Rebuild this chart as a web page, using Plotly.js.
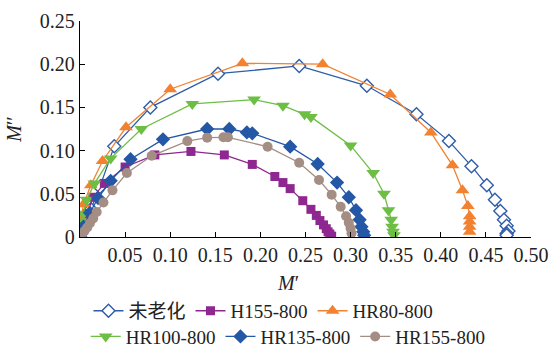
<!DOCTYPE html>
<html><head><meta charset="utf-8">
<script src="https://cdn.plot.ly/plotly-3.0.1.min.js"></script>
<style>html,body{margin:0;padding:0;background:#fff}#c{width:553px;height:347px}</style>
</head><body><div id="c"></div>
<script>
// 未老化
const unagedX = [0.000, 0.004, 0.012, 0.022, 0.038, 0.078, 0.153, 0.243, 0.318, 0.373, 0.409, 0.434, 0.451, 0.460, 0.466, 0.470, 0.473, 0.475, 0.473, 0.473];
const unagedY = [0.000, 0.012, 0.032, 0.058, 0.105, 0.150, 0.189, 0.198, 0.175, 0.142, 0.111, 0.082, 0.060, 0.043, 0.030, 0.020, 0.013, 0.007, 0.004, 0.002];
// H155-800
const h155X = [0.000, 0.004, 0.008, 0.0144, 0.027, 0.050, 0.083, 0.123, 0.160, 0.191, 0.216, 0.225, 0.233, 0.247, 0.256, 0.262, 0.266, 0.270, 0.273, 0.275, 0.277, 0.279];
const h155Y = [0.000, 0.012, 0.027, 0.046, 0.062, 0.081, 0.095, 0.099, 0.095, 0.084, 0.070, 0.063, 0.056, 0.042, 0.032, 0.025, 0.019, 0.014, 0.0096, 0.006, 0.0035, 0.001];
// HR80-800
const hr80X = [0.000, 0.001, 0.004, 0.012, 0.025, 0.051, 0.100, 0.180, 0.269, 0.344, 0.389, 0.413, 0.424, 0.430, 0.432, 0.432, 0.432, 0.432];
const hr80Y = [0.006, 0.022, 0.038, 0.060, 0.088, 0.127, 0.171, 0.201, 0.200, 0.165, 0.121, 0.083, 0.054, 0.036, 0.024, 0.018, 0.012, 0.006];
// HR100-800
const hr100X = [0.000, 0.001, 0.0037, 0.0074, 0.016, 0.034, 0.068, 0.1245, 0.193, 0.225, 0.249, 0.256, 0.300, 0.325, 0.337, 0.342, 0.345, 0.346, 0.347, 0.348];
const hr100Y = [0.008, 0.018, 0.027, 0.043, 0.062, 0.091, 0.125, 0.154, 0.159, 0.152, 0.142, 0.139, 0.106, 0.074, 0.050, 0.031, 0.020, 0.012, 0.006, 0.002];
// HR135-800
const hr135X = [0.000, 0.004, 0.011, 0.020, 0.034, 0.056, 0.092, 0.141, 0.1655, 0.185, 0.191, 0.233, 0.2635, 0.285, 0.298, 0.306, 0.310, 0.312, 0.314, 0.315];
const hr135Y = [0.000, 0.012, 0.028, 0.045, 0.065, 0.090, 0.113, 0.125, 0.125, 0.121, 0.120, 0.1045, 0.0845, 0.063, 0.046, 0.031, 0.020, 0.012, 0.006, 0.002];
// HR155-800
const hr155X = [0.000, 0.002, 0.005, 0.008, 0.011, 0.0147, 0.0185, 0.026, 0.036, 0.052, 0.0795, 0.119, 0.141, 0.159, 0.164, 0.208, 0.243, 0.265, 0.279, 0.289, 0.295, 0.298, 0.300, 0.301];
const hr155Y = [0.000, 0.003, 0.007, 0.011, 0.016, 0.0216, 0.029, 0.040, 0.054, 0.074, 0.094, 0.111, 0.115, 0.1154, 0.1154, 0.1045, 0.086, 0.066, 0.049, 0.035, 0.024, 0.0166, 0.010, 0.0043];

const xTicks = [0.05, 0.10, 0.15, 0.20, 0.25, 0.30, 0.35, 0.40, 0.45, 0.50];
const xTickText = ['0.05', '0.10', '0.15', '0.20', '0.25', '0.30', '0.35', '0.40', '0.45', '0.50'];
const yTicks = [0, 0.05, 0.10, 0.15, 0.20, 0.25];
const yTickText = ['0', '0.05', '0.10', '0.15', '0.20', '0.25'];

const F = '"Liberation Serif", "Times New Roman", "Noto Sans CJK SC", serif';
function tr(name, x, y, color, symbol, size, legend, fill) {
  return {x: x, y: y, name: name, type: 'scatter', mode: 'lines+markers', legend: legend,
    line: {color: color, width: 1.3},
    marker: {symbol: symbol, size: size, color: fill || color, line: {color: color, width: fill ? 1.4 : 0}}};
}
const data = [
  tr('未老化', unagedX, unagedY, '#2E5DAA', 'diamond', 10, 'legend', '#ffffff'),
  tr('H155-800', h155X, h155Y, '#8E278F', 'square', 9, 'legend'),
  tr('HR80-800', hr80X, hr80Y, '#F28130', 'triangle-up', 12, 'legend'),
  tr('HR100-800', hr100X, hr100Y, '#6DBE45', 'triangle-down', 12, 'legend2'),
  tr('HR135-800', hr135X, hr135Y, '#2457A5', 'diamond', 11, 'legend2'),
  tr('HR155-800', hr155X, hr155Y, '#A48E84', 'circle', 10, 'legend2')
];
const layout = {
  width: 553, height: 347,
  margin: {l: 80, r: 22, t: 21, b: 110},
  paper_bgcolor: '#fff', plot_bgcolor: '#fff',
  font: {family: F, size: 19, color: '#222'},
  showlegend: true,
  xaxis: {range: [0, 0.5], tickvals: xTicks, ticktext: xTickText, ticks: 'inside', ticklen: 5,
    tickcolor: '#000', showline: true, linecolor: '#000', linewidth: 1.2, showgrid: false, zeroline: false,
    tickfont: {family: F, size: 20}, automargin: false},
  yaxis: {range: [0, 0.25], tickvals: yTicks, ticktext: yTickText, ticks: 'inside', ticklen: 5,
    tickcolor: '#000', showline: true, linecolor: '#000', linewidth: 1.2, showgrid: false, zeroline: false,
    tickfont: {family: F, size: 20}, automargin: false,
    title: {text: '<i>M</i>′′', font: {family: F, size: 20}, standoff: 12}},
  annotations: [{text: '<i>M</i>′', xref: 'paper', yref: 'paper', x: 0.461, y: -0.213,
    xanchor: 'center', yanchor: 'middle', showarrow: false, font: {family: F, size: 20, color: '#222'}}],
  legend: {orientation: 'h', xref: 'container', yref: 'container', x: 0.160, xanchor: 'left', y: 0.104, yanchor: 'middle',
    font: {family: F, size: 19}, bgcolor: 'rgba(0,0,0,0)'},
  legend2: {orientation: 'h', xref: 'container', yref: 'container', x: 0.155, xanchor: 'left', y: 0.030, yanchor: 'middle',
    font: {family: F, size: 19}, bgcolor: 'rgba(0,0,0,0)'}
};
Plotly.newPlot('c', data, layout, {displayModeBar: false, staticPlot: true});
</script></body></html>
